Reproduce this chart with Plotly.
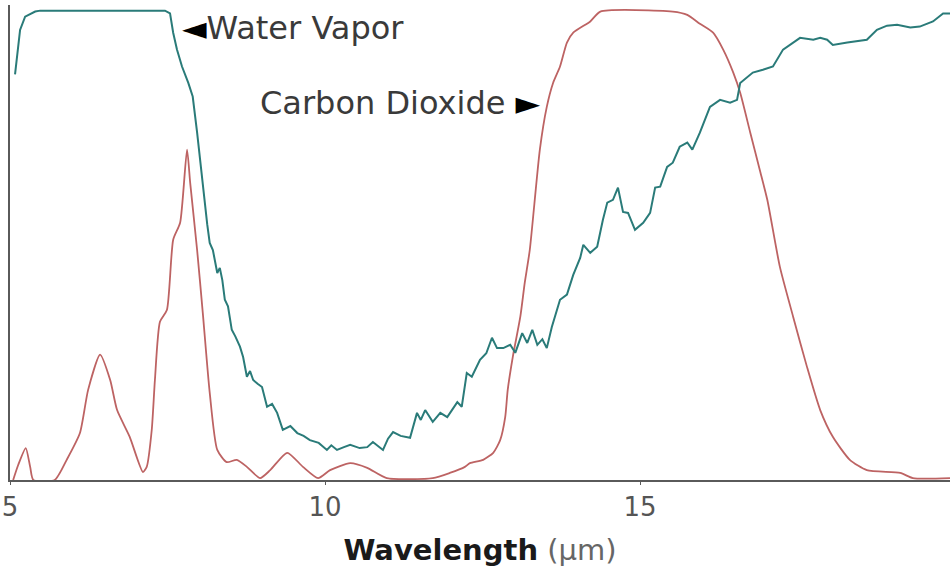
import plotly.graph_objects as go

# Water vapor absorption (wavelength in µm, absorption fraction 0-1)
wv_x = [5.08, 5.16, 5.24, 5.40, 5.48, 7.46, 7.54, 7.59, 7.65, 7.73, 7.83, 7.90, 7.97, 8.02, 8.06, 8.10, 8.13,
        8.17, 8.22, 8.29, 8.33, 8.37, 8.41, 8.46, 8.52, 8.58, 8.65, 8.70, 8.76, 8.81, 8.86, 8.93, 9.00,
        9.08, 9.16, 9.24, 9.33, 9.45, 9.56, 9.66, 9.76, 9.90, 10.03, 10.10, 10.19, 10.30, 10.40,
        10.55, 10.67, 10.76, 10.85, 10.92, 11.00, 11.08, 11.20, 11.35, 11.46, 11.52, 11.59, 11.71,
        11.83, 11.94, 12.02, 12.10, 12.17, 12.25, 12.33, 12.46, 12.56, 12.65, 12.73, 12.83, 12.94,
        13.02, 13.13, 13.21, 13.29, 13.37, 13.45, 13.52, 13.60, 13.73, 13.84, 13.94, 14.05, 14.10,
        14.21, 14.32, 14.41, 14.48, 14.57, 14.65, 14.73, 14.81, 14.92, 15.05, 15.16, 15.24, 15.32,
        15.43, 15.52, 15.63, 15.75, 15.83, 15.92, 15.95, 16.11, 16.27, 16.43, 16.54, 16.59, 16.79,
        16.95, 17.11, 17.27, 17.43, 17.54, 17.75, 17.86, 17.97, 18.06, 18.29, 18.60, 18.76, 18.92,
        19.08, 19.29, 19.44, 19.65, 19.81, 19.92]
wv_y = [0.864, 0.959, 0.987, 0.998, 1.000, 1.000, 0.994, 0.953, 0.917, 0.881, 0.846, 0.817, 0.740, 0.676, 0.633, 0.585, 0.545,
        0.505, 0.490, 0.441, 0.452, 0.426, 0.384, 0.370, 0.320, 0.305, 0.284, 0.262, 0.220, 0.232, 0.213, 0.205, 0.198,
        0.156, 0.162, 0.143, 0.107, 0.115, 0.100, 0.094, 0.085, 0.079, 0.064, 0.074, 0.064, 0.070, 0.075,
        0.068, 0.070, 0.081, 0.072, 0.064, 0.088, 0.102, 0.094, 0.090, 0.143, 0.128, 0.149, 0.124,
        0.143, 0.134, 0.150, 0.166, 0.156, 0.228, 0.220, 0.256, 0.270, 0.303, 0.281, 0.281, 0.288,
        0.271, 0.313, 0.292, 0.320, 0.288, 0.300, 0.281, 0.326, 0.384, 0.395, 0.437, 0.473, 0.501,
        0.484, 0.497, 0.554, 0.591, 0.597, 0.623, 0.571, 0.569, 0.533, 0.548, 0.569, 0.623, 0.625,
        0.667, 0.676, 0.710, 0.719, 0.704, 0.731, 0.740, 0.795, 0.810, 0.804, 0.810, 0.846, 0.868,
        0.874, 0.881, 0.917, 0.932, 0.942, 0.938, 0.942, 0.938, 0.927, 0.932, 0.938, 0.959, 0.968,
        0.970, 0.964, 0.966, 0.977, 0.994, 0.994]

# Carbon dioxide absorption
co2_x = [5.05, 5.13, 5.25, 5.32, 5.37, 5.71, 5.90, 6.11, 6.24, 6.43, 6.59, 6.70, 6.90, 7.11, 7.17,
         7.25, 7.30, 7.38, 7.49, 7.59, 7.70, 7.81, 7.86, 7.97, 8.06, 8.17, 8.29, 8.44, 8.60, 8.76,
         8.97, 9.13, 9.40, 9.65, 9.89, 10.08, 10.40, 10.67, 10.98, 11.71, 11.98, 12.22, 12.30, 12.51,
         12.67, 12.78, 12.86, 12.90, 12.98, 13.10, 13.17, 13.25, 13.41, 13.52, 13.62, 13.73, 13.84,
         13.94, 14.21, 14.37, 15.52, 15.75, 15.95, 16.16, 16.32, 16.48, 16.59, 16.75, 16.90, 17.02,
         17.22, 17.43, 17.65, 17.86, 18.06, 18.33, 18.60, 19.13, 19.33, 19.92]
co2_y = [0.000, 0.032, 0.068, 0.028, 0.000, 0.000, 0.043, 0.100, 0.192, 0.267, 0.213, 0.149, 0.092, 0.017, 0.028,
         0.107, 0.213, 0.337, 0.362, 0.512, 0.548, 0.704, 0.633, 0.490, 0.356, 0.186, 0.064, 0.038, 0.043, 0.028,
         0.004, 0.021, 0.058, 0.028, 0.004, 0.021, 0.036, 0.026, 0.004, 0.004, 0.015, 0.028, 0.036, 0.043,
         0.058, 0.085, 0.134, 0.192, 0.262, 0.348, 0.420, 0.490, 0.704, 0.795, 0.846, 0.881, 0.932,
         0.953, 0.977, 0.998, 0.998, 0.991, 0.972, 0.953, 0.917, 0.868, 0.825, 0.740, 0.661, 0.597,
         0.454, 0.348, 0.241, 0.149, 0.092, 0.043, 0.021, 0.015, 0.004, 0.004]

x_ticks = [5, 10, 15]
x_tick_labels = ["5", "10", "15"]

TEAL = "#2a7b79"
RED = "#bd6363"
FONT = "DejaVu Sans"

fig = go.Figure()
fig.add_trace(go.Scatter(x=co2_x, y=co2_y, mode="lines",
                         line=dict(color=RED, width=1.8, shape="spline", smoothing=0.6),
                         hoverinfo="skip", showlegend=False))
fig.add_trace(go.Scatter(x=wv_x, y=wv_y, mode="lines",
                         line=dict(color=TEAL, width=2),
                         hoverinfo="skip", showlegend=False))

fig.add_annotation(x=7.70, y=0.964, xref="x", yref="y", xanchor="left", yanchor="middle",
                   text="<span style='color:#000'>◄</span>Water Vapor", showarrow=False,
                   font=dict(family=FONT, size=32, color="#3a3a3a"))
fig.add_annotation(x=13.46, y=0.804, xref="x", yref="y", xanchor="right", yanchor="middle",
                   text="Carbon Dioxide <span style='color:#000'>►</span>", showarrow=False,
                   font=dict(family=FONT, size=32, color="#3a3a3a"))

fig.update_layout(
    width=950, height=573,
    margin=dict(l=10, r=0, t=5, b=93),
    paper_bgcolor="white", plot_bgcolor="white",
    xaxis=dict(range=[5, 19.92], tickvals=x_ticks, ticktext=x_tick_labels,
               showgrid=False, zeroline=False, showline=True, linecolor="#5a5a5a", linewidth=2,
               ticks="outside", ticklen=3, tickcolor="#5a5a5a",
               tickfont=dict(family=FONT, size=26, color="#555555"),
               title=dict(text="<b>Wavelength</b> <span style='color:#666'>(µm)</span>",
                          font=dict(family=FONT, size=29, color="#1a1a1a"), standoff=18)),
    yaxis=dict(range=[0, 1.012], showgrid=False, zeroline=False, showticklabels=False,
               showline=True, linecolor="#5a5a5a", linewidth=2, ticks=""),
)

fig.write_html("out.html")
